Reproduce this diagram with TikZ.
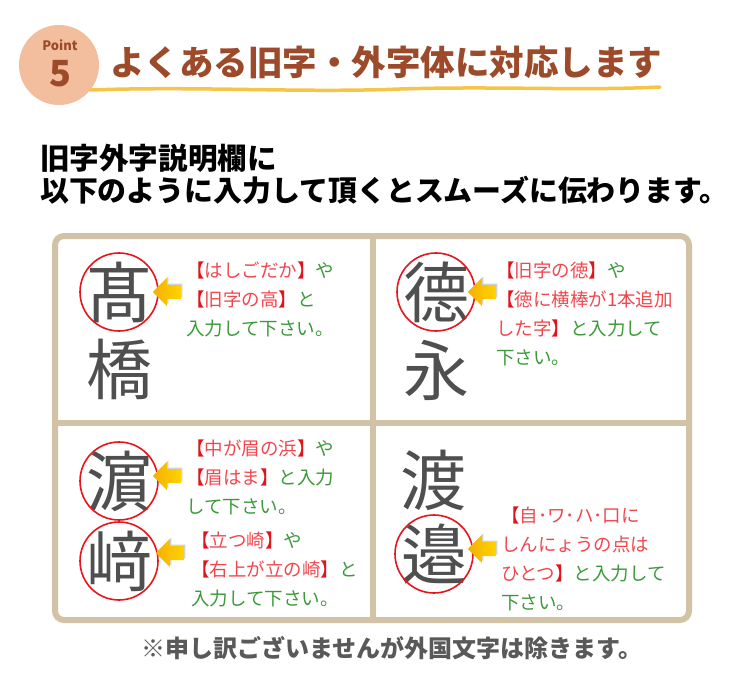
\documentclass[tikz,border=0pt]{standalone}
\usepackage{fontspec}
\newfontfamily\jp{Noto Sans CJK JP}
\usetikzlibrary{positioning}

\definecolor{brownT}{HTML}{9C4A2A}
\definecolor{peach}{HTML}{F3BE9E}
\definecolor{gold}{HTML}{F6C446}
\definecolor{tanB}{HTML}{D2C3A6}
\definecolor{redT}{HTML}{E0141B}
\definecolor{redL}{HTML}{F0474F}
\definecolor{greenT}{HTML}{3A9A3A}
\definecolor{ink}{HTML}{4F4F4F}
\definecolor{ringR}{HTML}{E8141B}
\definecolor{arrowO}{HTML}{F4B000}
\definecolor{arrowY}{HTML}{FFD300}

\newcommand{\lb}{\textcolor{redT}{【}}
\newcommand{\rb}{\textcolor{redT}{】}}
\newcommand{\rd}[1]{\textcolor{redL}{#1}}

\begin{document}
\begin{tikzpicture}[x=1pt,y=-1pt,
	kanji/.style={font=\jp\fontsize{66}{66}\selectfont, text=ink, inner sep=0pt},
	ring/.style={draw=ringR, line width=1.6pt, circle, minimum size=78pt, inner sep=0pt},
	blockarrow/.pic={
		\fill[gray!35] (1.5,-1.5) -- (15.5,-15.5) -- (15.5,-8.5) -- (29.5,-8.5) -- (29.5,5.5) -- (15.5,5.5) -- (15.5,12.5) -- cycle;
		\shade[left color=arrowO, right color=arrowY] (0,0) -- (14,-14) -- (14,-7) -- (28,-7) -- (28,7) -- (14,7) -- (14,14) -- cycle;
	},
	note/.style={font=\jp\fontsize{18.5}{29}\selectfont, text=greenT, align=left, anchor=north west, inner sep=0pt}]
	\useasboundingbox (0,0) rectangle (750,690);
	% header
	\fill[peach] (59,65) circle (40);
	\node[text=brownT, font=\jp\bfseries\fontsize{13}{13}\selectfont] (pt) at (60,45) {Point};
	\node[text=brownT, font=\jp\bfseries\fontsize{36}{36}\selectfont] (num) at (60,74) {5};
	\node[anchor=west, text=brownT, font=\jp\bfseries\fontsize{34.5}{34.5}\selectfont, inner sep=0pt] (title) at (110,62) {よくある旧字・外字体に対応します};
	\draw[gold, line width=3.5, line cap=round] (90,90) .. controls (200,86) and (300,93) .. (400,89) .. controls (500,86) and (580,91) .. (660,87);
	\node[anchor=west, font=\jp\bfseries\fontsize{29.6}{29.6}\selectfont, inner sep=0pt] (sub1) at (40,158) {旧字外字説明欄に};
	\node[anchor=west, font=\jp\bfseries\fontsize{28.9}{28.9}\selectfont, inner sep=0pt] (sub2) at (40,190) {以下のように入力して頂くとスムーズに伝わります。};
	% box
	\draw[tanB, line width=6, rounded corners=9] (55,236) rectangle (689,620);
	\draw[tanB, line width=6] (373,236) -- (373,620) (55,423) -- (689,423);
	% top left
	\node[kanji] (taka) at (119,292) {髙};
	\node[kanji] (hashi) at (119,369) {橋};
	\node[ring] (rtaka) at (taka) {};
	\coordinate (ataka) at ([xshift=-6pt]rtaka.east);
	\pic at (ataka) {blockarrow};
	\node[note] (ttaka) at (186,262) {\lb\rd{はしごだか}\rb や\\\lb\rd{旧字の高}\rb と\\入力して下さい。};
	% top right
	\node[kanji] (toku) at (436,292) {德};
	\node[kanji] (ei) at (436,370) {永};
	\node[ring] (rtoku) at (toku) {};
	\coordinate (atoku) at ([xshift=-8pt]rtoku.east);
	\pic at (atoku) {blockarrow};
	\node[note] (ttoku) at (496,262) {\lb\rd{旧字の徳}\rb や\\\lb\rd{徳に横棒が1本追加}\\\rd{した字}\rb と入力して\\下さい。};
	% bottom left
	\node[kanji] (hama) at (119,481) {濵};
	\node[ring] (rhama) at (hama) {};
	\node[kanji] (saki) at (119,561) {﨑};
	\node[ring] (rsaki) at (saki) {};
	\coordinate (ahama) at ([xshift=-6pt,yshift=5pt]rhama.east);
	\coordinate (asaki) at ([xshift=-3pt,yshift=8pt]rsaki.east);
	\pic at (ahama) {blockarrow};
	\pic at (asaki) {blockarrow};
	\node[note] (thama) at (186,440) {\lb\rd{中が眉の浜}\rb や\\\lb\rd{眉はま}\rb と入力\\して下さい。};
	\node[note] (tsaki) at (191,532) {\lb\rd{立つ崎}\rb や\\\lb\rd{右上が立の崎}\rb と\\入力して下さい。};
	% bottom right
	\node[kanji] (wata) at (433,480) {渡};
	\node[kanji] (nabe) at (434,554) {邉};
	\node[ring] (rnabe) at (nabe) {};
	\coordinate (anabe) at ([xshift=-6pt,yshift=5pt]rnabe.east);
	\pic at (anabe) {blockarrow};
	\node[note] (tnabe) at (501,507) {\lb\rd{自･ワ･ハ･口に}\\\rd{しんにょうの点は}\\\rd{ひとつ}\rb と入力して\\下さい。};
	% footer
	\node[text=black!65, font=\jp\bfseries\fontsize{24}{24}\selectfont] (foot) at (392,648) {※申し訳ございませんが外国文字は除きます。};
\end{tikzpicture}
\end{document}
